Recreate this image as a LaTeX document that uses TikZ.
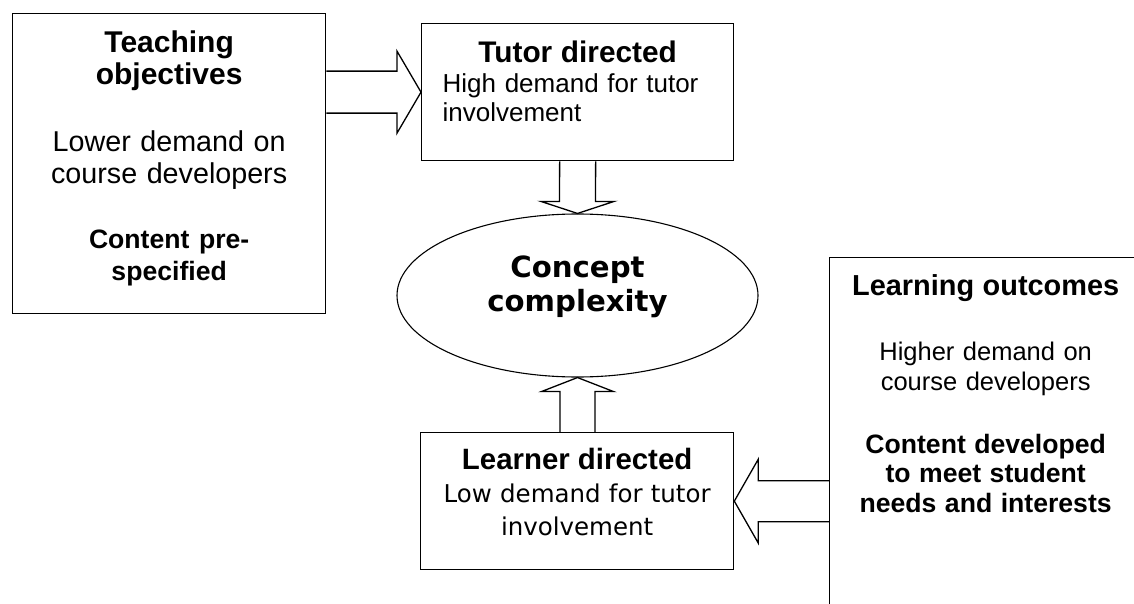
\documentclass[tikz,border=0pt]{standalone}
\usepackage{fontspec}
\setmainfont{Liberation Sans}
\newfontfamily\verdanafont{DejaVu Sans}
\usetikzlibrary{shapes.geometric, calc}

\tikzset{
  box/.style={draw=black, line width=1.3pt, fill=white, rectangle, inner xsep=10pt, inner ysep=0pt, align=center},
  concept/.style={draw=black, line width=1.1pt, ellipse, inner sep=0pt, align=center},
  fatarrow/.style={draw=black, line width=1.3pt, line join=miter}
}

\begin{document}
\begin{tikzpicture}[x=1pt, y=-1pt]
        \useasboundingbox (0,0) rectangle (1134,604);
        \clip (0,0) rectangle (1134,604);

        % Boxes (y counted downwards, as in the page)
        \node[box, anchor=north west, text width=293pt, text height=39pt, text depth=261pt, font=\fontsize{28.7}{32}\selectfont] (teach) at (12,13)
          {{\bfseries\fontsize{30}{32}\selectfont Teaching\\objectives}\\[35pt]
           Lower demand on\\course developers\\[33pt]
           {\bfseries\fontsize{26.6}{32}\selectfont Content pre-\\specified}};

        \node[box, anchor=north west, text width=270pt, inner xsep=21pt, align=left, text height=39pt, text depth=98pt, font=\fontsize{26}{29.5}\selectfont] (tutor) at (421,23)
          {{\centering\bfseries\fontsize{29.8}{29.5}\selectfont Tutor directed\par}High demand for tutor\\involvement};

        \node[concept, minimum width=361pt, minimum height=163pt, text width=200pt, text height=24pt, text depth=61pt, font=\verdanafont\bfseries\fontsize{29.2}{34}\selectfont] (concept) at (577.5,295.5)
          {Concept\\complexity};

        \node[box, anchor=north west, text width=293pt, text height=37pt, text depth=100pt, font=\verdanafont\fontsize{24.5}{33}\selectfont] (learner) at (420,432)
          {{\normalfont\bfseries\fontsize{29.4}{33}\selectfont Learner directed}\\Low demand for tutor\\involvement};

        \node[box, anchor=north west, text width=292pt, text height=38pt, text depth=360pt, font=\fontsize{25.5}{29.5}\selectfont] (outcome) at (829,257)
          {{\bfseries\fontsize{28.9}{29.5}\selectfont Learning outcomes}\\[35.5pt]
           Higher demand on\\course developers\\[33.5pt]
           {\bfseries\fontsize{26.6}{29.5}\selectfont Content developed\\to meet student\\needs and interests}};

        % Block arrows
        \coordinate (tA) at (teach.east |- tutor.west);
        \draw[fatarrow] ($(tA)+(0,-21)$) -- ($(tutor.west)+(-24,-21)$) -- ($(tutor.west)+(-24,-41)$) -- (tutor.west)
          -- ($(tutor.west)+(-24,41)$) -- ($(tutor.west)+(-24,21)$) -- ($(tA)+(0,21)$);

        \draw[fatarrow] ($(tutor.south)+(-18,0)$) -- ($(concept.north)+(-18,-12)$) -- ($(concept.north)+(-36.5,-12)$) -- (concept.north)
          -- ($(concept.north)+(36.5,-12)$) -- ($(concept.north)+(18,-12)$) -- ($(tutor.south)+(18,0)$);

        \coordinate (lA) at (learner.north -| concept.south);
        \draw[fatarrow] ($(lA)+(-17.5,0)$) -- ($(concept.south)+(-17.5,14)$) -- ($(concept.south)+(-36,14)$) -- (concept.south)
          -- ($(concept.south)+(36,14)$) -- ($(concept.south)+(17.5,14)$) -- ($(lA)+(17.5,0)$);

        \coordinate (oA) at (outcome.west |- learner.east);
        \draw[fatarrow] ($(oA)+(0,-20.5)$) -- ($(learner.east)+(24,-20.5)$) -- ($(learner.east)+(24,-42)$) -- (learner.east)
          -- ($(learner.east)+(24,42)$) -- ($(learner.east)+(24,20.5)$) -- ($(oA)+(0,20.5)$);
\end{tikzpicture}
\end{document}
